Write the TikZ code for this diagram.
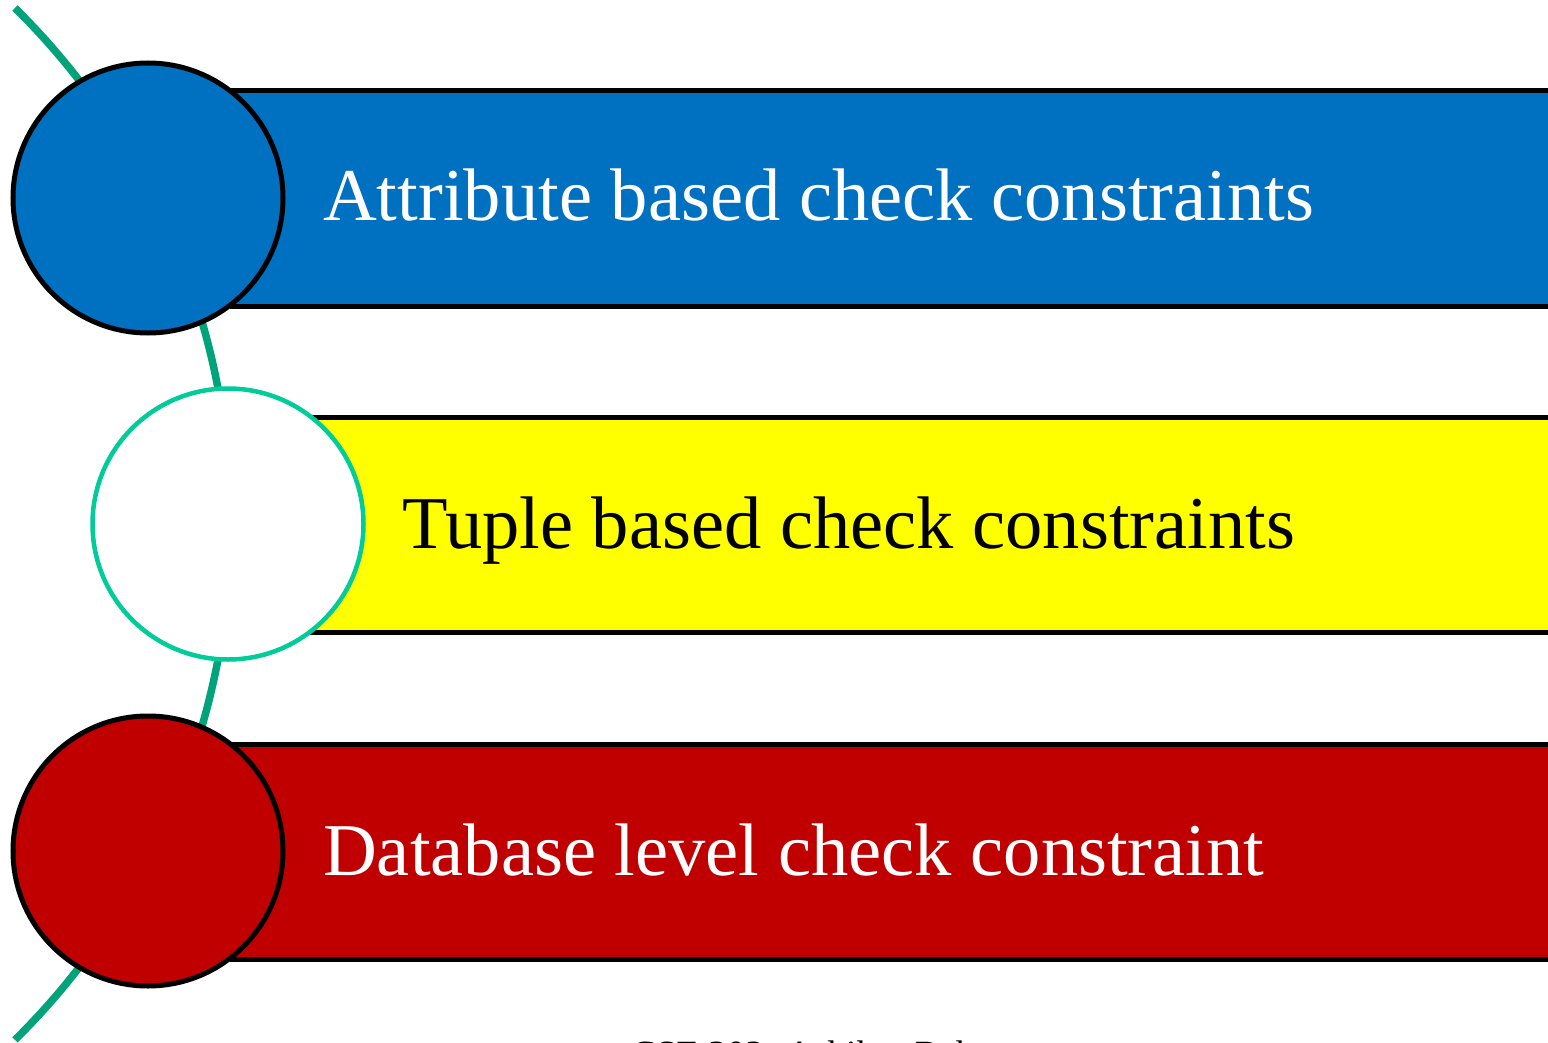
\documentclass[tikz,border=0pt]{standalone}
\usepackage{fontspec}
\setmainfont{Liberation Serif}
\definecolor{arcgreen}{RGB}{0,163,122}
\definecolor{ringgreen}{RGB}{0,204,153}
\definecolor{bandblue}{RGB}{0,112,192}
\definecolor{bandyellow}{RGB}{255,255,0}
\definecolor{bandred}{RGB}{192,0,0}
\tikzset{
  band/.style={rectangle, draw=black, line width=5pt, minimum width=1340pt, minimum height=215pt, inner sep=0pt, anchor=west},
  disc/.style={circle, draw=black, line width=5pt, minimum size=270pt, inner sep=0pt},
  label/.style={inner sep=0pt, anchor=base west, font=\fontsize{74.5}{86}\selectfont},
}
\begin{document}
\begin{tikzpicture}[x=1pt,y=-1pt]
\useasboundingbox (0,0) rectangle (1548,1043);
\clip (0,0) rectangle (1548,1043);
% background arc
\coordinate (arcstart) at (15,8);
\draw[arcgreen, line width=7.5pt] (arcstart) arc[start angle=-45.4, end angle=45.4, radius=724.6];
% bands
\node[band, fill=bandblue] (b1) at (230,198.5) {};
\node[band, fill=bandyellow] (b2) at (310,524.5) {};
\node[band, fill=bandred] (b3) at (230,851.5) {};
% discs
\node[disc, fill=bandblue] (c1) at (148,198) {};
\node[disc, fill=white, draw=ringgreen, line width=4.5pt, minimum size=271pt] (c2) at (228,524) {};
\node[disc, fill=bandred] (c3) at (148,851) {};
% labels
\node[label, text=white] (t1) at (323,221) {Attribute based check constraints};
\node[label, text=black] (t2) at (402,548) {Tuple based check constraints};
\node[label, text=white] (t3) at (323,875) {Database level check constraint};
\node[inner sep=0pt, anchor=base west, font=\fontsize{37}{44}\selectfont] (foot) at (631,1066) {CSE 303: Ashikur Rahman};
\end{tikzpicture}
\end{document}
